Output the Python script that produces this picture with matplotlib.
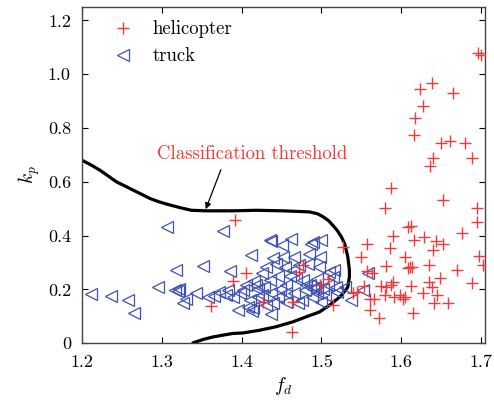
import numpy as np
import matplotlib
matplotlib.use('Agg')
import matplotlib.pyplot as plt

plt.rcParams['font.family'] = ['cmr10', 'DejaVu Serif']
plt.rcParams['mathtext.fontset'] = 'cm'
plt.rcParams['axes.formatter.use_mathtext'] = True

# helicopter samples (f_d, k_p)
heli_fd = [1.696, 1.700, 1.638, 1.623, 1.665, 1.627, 1.617, 1.616, 1.650, 1.661,
           1.680, 1.688, 1.640, 1.636, 1.587, 1.652, 1.579, 1.695, 1.695, 1.392,
           1.609, 1.612, 1.676, 1.590, 1.629, 1.616, 1.643, 1.652, 1.557, 1.527,
           1.640, 1.586, 1.550, 1.605, 1.697, 1.702, 1.635, 1.611, 1.613, 1.609,
           1.581, 1.670, 1.648, 1.557, 1.563, 1.590, 1.587, 1.635, 1.688, 1.612,
           1.575, 1.581, 1.639, 1.553, 1.627, 1.645, 1.580, 1.599, 1.602, 1.605,
           1.591, 1.561, 1.566, 1.539, 1.544, 1.641, 1.658, 1.561, 1.615, 1.572,
           1.514, 1.463, 1.362, 1.406, 1.389, 1.427, 1.472, 1.477, 1.498, 1.508,
           1.464]
heli_kp = [1.079, 1.071, 0.968, 0.946, 0.931, 0.881, 0.836, 0.774, 0.743, 0.752,
           0.743, 0.689, 0.687, 0.658, 0.577, 0.533, 0.503, 0.501, 0.451, 0.457,
           0.432, 0.435, 0.408, 0.400, 0.395, 0.385, 0.380, 0.370, 0.368, 0.358,
           0.348, 0.352, 0.319, 0.321, 0.323, 0.292, 0.292, 0.284, 0.282, 0.281,
           0.286, 0.271, 0.244, 0.269, 0.259, 0.228, 0.216, 0.228, 0.222, 0.212,
           0.212, 0.207, 0.207, 0.212, 0.185, 0.178, 0.178, 0.178, 0.166, 0.172,
           0.172, 0.166, 0.166, 0.185, 0.190, 0.148, 0.148, 0.125, 0.113, 0.092,
           0.141, 0.042, 0.138, 0.261, 0.230, 0.154, 0.265, 0.290, 0.216, 0.237,
           0.154]

# truck samples (f_d, k_p)
truck_fd = [1.211, 1.236, 1.258, 1.265, 1.295, 1.307, 1.318, 1.316, 1.320, 1.322,
            1.327, 1.330, 1.343, 1.352, 1.358, 1.377, 1.372, 1.385, 1.383, 1.389,
            1.395, 1.402, 1.412, 1.408, 1.414, 1.413, 1.416, 1.418, 1.420, 1.425,
            1.420, 1.435, 1.437, 1.431, 1.439, 1.443, 1.435, 1.437, 1.439, 1.437,
            1.450, 1.462, 1.452, 1.454, 1.455, 1.456, 1.456, 1.466, 1.464, 1.468,
            1.465, 1.470, 1.477, 1.479, 1.483, 1.485, 1.487, 1.490, 1.500, 1.498,
            1.497, 1.490, 1.492, 1.494, 1.488, 1.486, 1.500, 1.510, 1.508, 1.514,
            1.516, 1.518, 1.529, 1.537, 1.552, 1.558, 1.405, 1.398, 1.425, 1.428,
            1.445, 1.448, 1.460, 1.472, 1.476, 1.495, 1.502, 1.505, 1.520, 1.480,
            1.445, 1.430, 1.410, 1.365, 1.380]
truck_kp = [0.181, 0.175, 0.160, 0.113, 0.209, 0.430, 0.271, 0.196, 0.193, 0.200,
            0.148, 0.166, 0.187, 0.286, 0.172, 0.418, 0.191, 0.269, 0.197, 0.172,
            0.123, 0.197, 0.327, 0.135, 0.129, 0.121, 0.230, 0.215, 0.200, 0.259,
            0.172, 0.383, 0.380, 0.284, 0.315, 0.296, 0.234, 0.185, 0.148, 0.110,
            0.364, 0.389, 0.321, 0.284, 0.216, 0.185, 0.154, 0.321, 0.271, 0.240,
            0.185, 0.148, 0.234, 0.197, 0.296, 0.333, 0.370, 0.376, 0.383, 0.321,
            0.284, 0.200, 0.210, 0.185, 0.170, 0.215, 0.154, 0.265, 0.216, 0.247,
            0.271, 0.209, 0.209, 0.160, 0.197, 0.259, 0.215, 0.185, 0.180, 0.210,
            0.250, 0.200, 0.250, 0.290, 0.160, 0.240, 0.200, 0.180, 0.190, 0.215,
            0.170, 0.140, 0.160, 0.175, 0.180]

# classification threshold curve
thr_fd = [1.200, 1.211, 1.2225, 1.233, 1.243, 1.254, 1.264, 1.275, 1.285, 1.296,
          1.306, 1.3225, 1.337, 1.356, 1.389, 1.418, 1.452, 1.485, 1.495, 1.502,
          1.509, 1.514, 1.520, 1.525, 1.529, 1.531, 1.533, 1.534, 1.535, 1.535,
          1.533, 1.530, 1.527, 1.523, 1.518, 1.510, 1.4975, 1.481, 1.464, 1.443,
          1.4225, 1.402, 1.389, 1.377, 1.364, 1.352, 1.339]
thr_kp = [0.680, 0.663, 0.643, 0.621, 0.600, 0.584, 0.569, 0.553, 0.538, 0.526,
          0.517, 0.504, 0.494, 0.492, 0.492, 0.494, 0.492, 0.488, 0.481, 0.470,
          0.455, 0.439, 0.418, 0.395, 0.370, 0.346, 0.321, 0.296, 0.271, 0.247,
          0.209, 0.196, 0.185, 0.172, 0.160, 0.141, 0.116, 0.098, 0.079, 0.061,
          0.048, 0.038, 0.036, 0.030, 0.023, 0.014, 0.001]

red = '#f23a3a'
blue = '#3d52b3'

fig = plt.figure(figsize=(4.94, 4.09), dpi=100)
ax = fig.add_axes([0.166, 0.161, 0.816, 0.822])

ax.plot(thr_fd, thr_kp, color='black', lw=2.3, zorder=1,
        solid_joinstyle='round', solid_capstyle='round')
ax.plot(heli_fd, heli_kp, '+', color=red, ms=8, mew=1.0, label='helicopter', zorder=3)
ax.plot(truck_fd, truck_kp, '<', color=blue, mfc='none', ms=8.5, mew=0.9,
        label='truck', zorder=2)

ax.annotate('Classification threshold', xy=(1.355, 0.498), xytext=(1.413, 0.703),
            color=red, fontsize=13.5, ha='center', va='center',
            arrowprops=dict(arrowstyle='-|>', color='black', lw=0.9,
                            relpos=(0.35, 0.0), shrinkA=3, shrinkB=0,
                            mutation_scale=9))

ax.set_xlim(1.2, 1.705)
ax.set_ylim(0, 1.25)
ax.set_xticks([1.2, 1.3, 1.4, 1.5, 1.6, 1.7])
ax.set_xticklabels(['1.2', '1.3', '1.4', '1.5', '1.6', '1.7'])
ax.set_yticks([0, 0.2, 0.4, 0.6, 0.8, 1.0, 1.2])
ax.set_yticklabels(['0', '0.2', '0.4', '0.6', '0.8', '1.0', '1.2'])
ax.tick_params(direction='in', top=True, right=True, labelsize=13, length=4, pad=8)
for sp in ax.spines.values():
    sp.set_color('#444444')
    sp.set_linewidth(1.0)

ax.set_xlabel('$f_d$', fontsize=14)
ax.set_ylabel('$k_p$', fontsize=14)

ax.legend(loc='upper left', frameon=False, fontsize=13.5, handlelength=1.2,
          handletextpad=1.0, borderaxespad=0.3, labelspacing=0.5,
          bbox_to_anchor=(0.04, 1.0))

fig.savefig('out.png', dpi=100)
